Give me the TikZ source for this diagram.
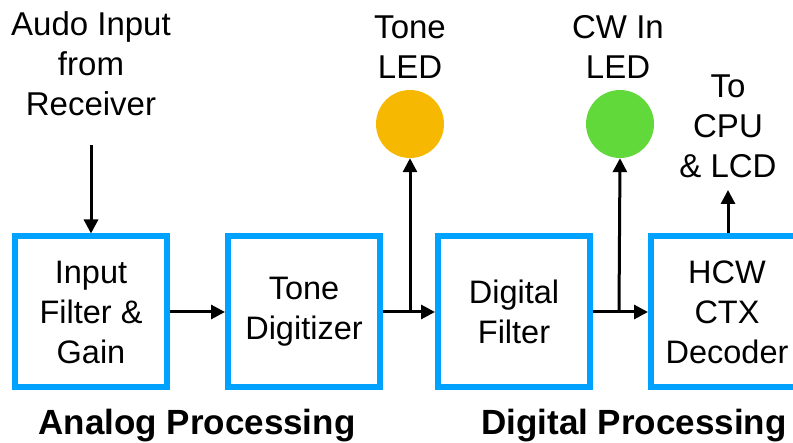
\documentclass[tikz,border=0pt]{standalone}
\usepackage{fontspec}
\setmainfont{Liberation Sans}
\usetikzlibrary{arrows.meta}
\definecolor{boxblue}{RGB}{0,162,255}
\definecolor{ledorange}{RGB}{246,184,0}
\definecolor{ledgreen}{RGB}{98,217,59}
\tikzset{
  procbox/.style={draw=boxblue, line width=6pt, fill=white, minimum width=152pt, minimum height=151pt,
    align=center, inner sep=0pt, font=\fontsize{32.5}{40}\selectfont},
  lbl/.style={align=center, inner sep=0pt, font=\fontsize{33}{40}\selectfont},
  sect/.style={inner sep=0pt, anchor=base, font=\bfseries\fontsize{35}{40}\selectfont},
  led/.style={circle, inner sep=0pt, minimum size=68pt},
  conn/.style={line width=3pt, -{Triangle[length=14pt,width=14pt]}}
}
\begin{document}
\begin{tikzpicture}[x=1pt,y=-1pt]
\useasboundingbox (0,0) rectangle (793,443);
\clip (0,0) rectangle (793,443);
% boxes
\node[procbox] (b1) at (91,312) {Input\\Filter \&\\Gain};
\node[procbox] (b2) at (304,312) {Tone\\Digitizer};
\node[procbox] (b3) at (514,312) {Digital\\Filter};
\node[procbox] (b4) at (727,312) {HCW\\CTX\\Decoder};
% LEDs
\node[led, fill=ledorange] (led1) at (410,124) {};
\node[led, fill=ledgreen] (led2) at (620,124) {};
% labels
\node[lbl] (in) at (91,64) {Audo Input\\from\\Receiver};
\node[lbl] (tl) at (410,47) {Tone\\LED};
\node[lbl] (cl) at (618,47) {CW In\\LED};
\node[lbl] (cpu) at (728,126) {To\\CPU\\\& LCD};
\node[sect] (ap) at (197,435) {Analog Processing};
\node[sect] (dp) at (634,435) {Digital Processing};
% connectors
\coordinate (src) at (91,145);
\coordinate (j1) at (410,312);
\coordinate (j2) at (619,312);
\coordinate (out) at (728,190);
\draw[conn] (src) -- (b1.north);
\draw[conn] (b1.east) -- (b2.west);
\draw[conn] (b2.east) -- (b3.west);
\draw[conn] (b3.east) -- (b4.west);
\draw[conn] (j1) -- (led1.south);
\draw[conn] (j2) -- (led2.south);
\draw[conn] (b4.north -| out) -- (out);
\end{tikzpicture}
\end{document}
